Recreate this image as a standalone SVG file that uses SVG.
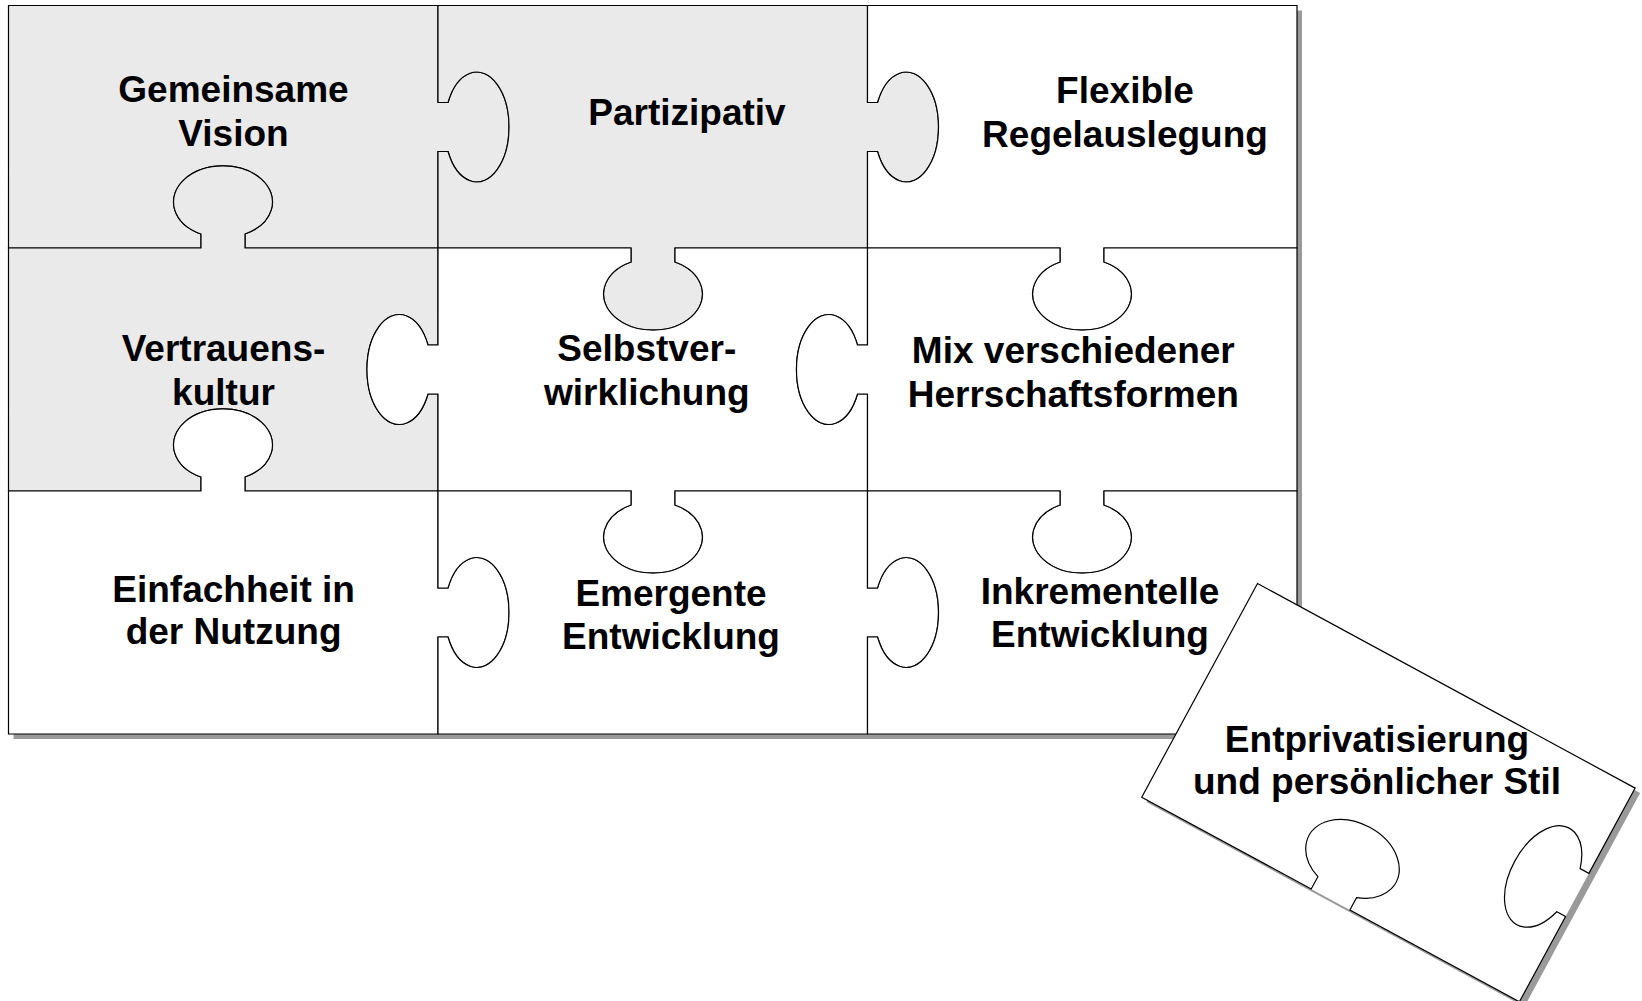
<svg xmlns="http://www.w3.org/2000/svg" width="1642" height="1001" viewBox="0 0 1642 1001">
<style>
.piece{stroke:#000;stroke-width:1.2;stroke-linejoin:miter}
.gray{fill:#eaeaea}
.white{fill:#fff}
.outline{fill:none;stroke:#000;stroke-width:1.2}
.shadow{fill:#9a9a9a}
.label{font-family:"Liberation Sans",Arial,sans-serif;font-weight:bold;font-size:37px;text-anchor:middle;fill:#000}
</style>
<rect x="0" y="0" width="1642" height="1001" fill="#fff"/>
<rect class="shadow" x="13.5" y="10.5" width="1288.5" height="728.5"/>

<g id="gemeinsame-vision">
<path class="piece gray" d="M8.5,5.5 H438 V102.5 H448 A32.2,55 0 1 1 448,151.5 H438 V248 H245 V234 A49.5,35.9 0 1 0 201,234 V248 H8.5 Z"/>
<text class="label" x="233.5" y="102">Gemeinsame</text>
<text class="label" x="233.5" y="146">Vision</text>
</g>

<g id="partizipativ">
<path class="piece gray" d="M438,5.5 H867.5 V102.5 H877.5 A32.2,55 0 1 1 877.5,151.5 H867.5 V248 H675 V262 A49.5,35.9 0 1 1 631,262 V248 H438 V151.5 H448 A32.2,55 0 1 0 448,102.5 H438 Z"/>
<text class="label" x="687" y="124.5">Partizipativ</text>
</g>

<g id="flexible-regelauslegung">
<path class="piece white" d="M867.5,5.5 H1297 V248 H1104 V262 A49.5,35.9 0 1 1 1060,262 V248 H867.5 V151.5 H877.5 A32.2,55 0 1 0 877.5,102.5 H867.5 Z"/>
<text class="label" x="1125" y="102.5">Flexible</text>
<text class="label" x="1125" y="146.5">Regelauslegung</text>
</g>

<g id="vertrauenskultur">
<path class="piece gray" d="M8.5,248 H201 V234 A49.5,35.9 0 1 1 245,234 V248 H438 V345 H428 A32.2,55 0 1 0 428,394 H438 V491 H245 V477 A49.5,35.9 0 1 0 201,477 V491 H8.5 Z"/>
<text class="label" x="223.5" y="361">Vertrauens-</text>
<text class="label" x="223.5" y="405">kultur</text>
</g>

<g id="selbstverwirklichung">
<path class="piece white" d="M438,248 H631 V262 A49.5,35.9 0 1 0 675,262 V248 H867.5 V345 H857.5 A32.2,55 0 1 0 857.5,394 H867.5 V491 H675 V505 A49.5,35.9 0 1 1 631,505 V491 H438 V394 H428 A32.2,55 0 1 1 428,345 H438 Z"/>
<text class="label" x="646.8" y="361">Selbstver-</text>
<text class="label" x="646.8" y="405">wirklichung</text>
</g>

<g id="mix-herrschaftsformen">
<path class="piece white" d="M867.5,248 H1060 V262 A49.5,35.9 0 1 0 1104,262 V248 H1297 V491 H1104 V505 A49.5,35.9 0 1 1 1060,505 V491 H867.5 V394 H857.5 A32.2,55 0 1 1 857.5,345 H867.5 Z"/>
<text class="label" x="1073.3" y="362.5">Mix verschiedener</text>
<text class="label" x="1073.3" y="407">Herrschaftsformen</text>
</g>

<g id="einfachheit">
<path class="piece white" d="M8.5,491 H201 V477 A49.5,35.9 0 1 1 245,477 V491 H438 V588 H448 A32.2,55 0 1 1 448,637 H438 V734 H8.5 Z"/>
<text class="label" x="233.6" y="601.5">Einfachheit in</text>
<text class="label" x="233.6" y="644">der Nutzung</text>
</g>

<g id="emergente-entwicklung">
<path class="piece white" d="M438,491 H631 V505 A49.5,35.9 0 1 0 675,505 V491 H867.5 V588 H877.5 A32.2,55 0 1 1 877.5,637 H867.5 V734 H438 V637 H448 A32.2,55 0 1 0 448,588 H438 Z"/>
<text class="label" x="671" y="606">Emergente</text>
<text class="label" x="671" y="648.5">Entwicklung</text>
</g>

<g id="inkrementelle-entwicklung">
<path class="piece white" d="M867.5,491 H1060 V505 A49.5,35.9 0 1 0 1104,505 V491 H1297 V734 H867.5 V637 H877.5 A32.2,55 0 1 0 877.5,588 H867.5 Z"/>
<text class="label" x="1100" y="604">Inkrementelle</text>
<text class="label" x="1100" y="646.5">Entwicklung</text>
</g>

<g id="entprivatisierung">
<rect class="shadow" x="0" y="0" width="429.5" height="243" transform="translate(1262.5,588.5) rotate(28.45)"/>
<g transform="translate(1257.5,583.5) rotate(28.45)">
<rect class="white" x="0" y="0" width="429.5" height="243"/>
<path class="outline" d="M0,0 H429.5 V97 H419.5 A32.2,55 0 1 0 419.5,146 H429.5 V243 H236.75 V229 A49.5,35.9 0 1 0 192.75,229 V243 H0 Z"/>
</g>
<text class="label" x="1377" y="751.5">Entprivatisierung</text>
<text class="label" x="1377" y="794">und persönlicher Stil</text>
</g>
</svg>
